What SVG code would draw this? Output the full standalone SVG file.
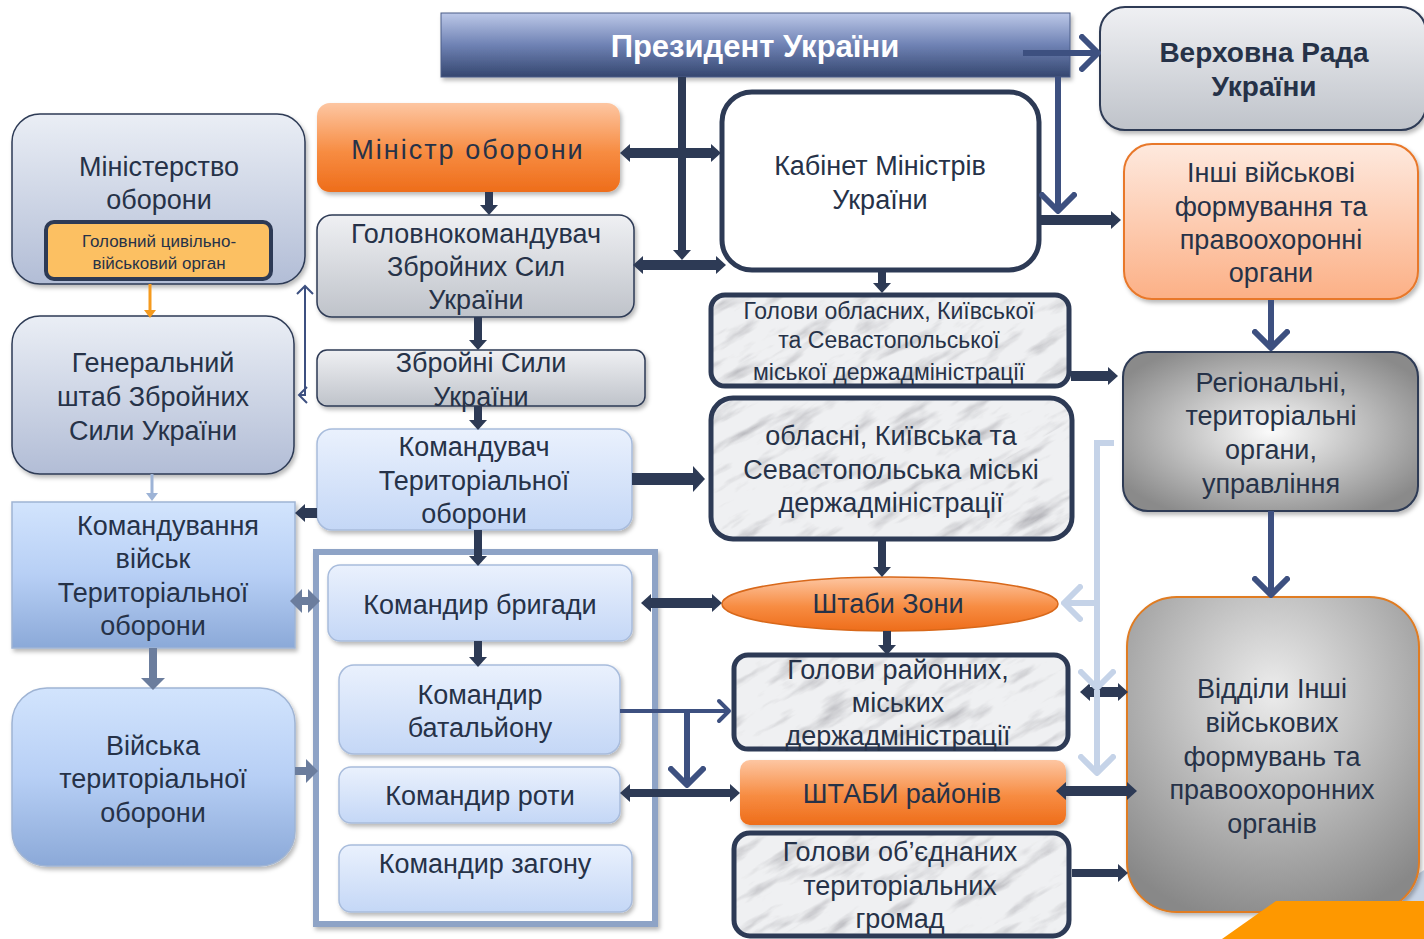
<svg xmlns="http://www.w3.org/2000/svg" width="1424" height="939" viewBox="0 0 1424 939">
<defs>
<style>
text{font-family:"Liberation Sans Narrow","Arial Narrow","Liberation Sans",Arial,sans-serif;fill:#263248;text-anchor:middle;font-size:27px}
.b{font-weight:bold}
.w{fill:#ffffff}
.s23{font-size:23px}
.s17{font-size:17px}
.dk{fill:none;stroke:#2d3a55;stroke-width:10}
.dk8{fill:none;stroke:#2d3a55;stroke-width:8}
.bl{fill:none;stroke:#3d5080;stroke-width:6}
.lb{fill:none;stroke:#c5d3e8;stroke-width:6}
.gb{fill:none;stroke:#6b7d9d;stroke-width:8}
.navy{stroke:#2d3a55;stroke-width:1.5}
.marbleS{fill:none;stroke:#2d3a55;stroke-width:5}
.mfill{fill:url(#marbleP)}
</style>
<linearGradient id="gPres" x1="0" y1="0" x2="0" y2="1"><stop offset="0" stop-color="#bcc8e8"/><stop offset="0.5" stop-color="#6f82b4"/><stop offset="1" stop-color="#34466f"/></linearGradient>
<linearGradient id="gOr" x1="0" y1="0" x2="0" y2="1"><stop offset="0" stop-color="#fdc6a2"/><stop offset="0.55" stop-color="#f78c42"/><stop offset="1" stop-color="#ee6d1a"/></linearGradient>
<linearGradient id="gGray" x1="0" y1="0" x2="0" y2="1"><stop offset="0" stop-color="#eff0f3"/><stop offset="1" stop-color="#bfc3ca"/></linearGradient>
<linearGradient id="gMin" x1="0" y1="0" x2="0" y2="1"><stop offset="0" stop-color="#eaeef5"/><stop offset="1" stop-color="#b2bdd6"/></linearGradient>
<linearGradient id="gLb" x1="0" y1="0" x2="0" y2="1"><stop offset="0" stop-color="#eaf1fd"/><stop offset="1" stop-color="#c4d7f6"/></linearGradient>
<linearGradient id="gBlue" x1="0" y1="0" x2="0" y2="1"><stop offset="0" stop-color="#d2e4fd"/><stop offset="0.5" stop-color="#b7cff5"/><stop offset="1" stop-color="#8ba9d8"/></linearGradient>
<linearGradient id="gPeach" x1="0" y1="0" x2="0" y2="1"><stop offset="0" stop-color="#fee9de"/><stop offset="1" stop-color="#fcb086"/></linearGradient>
<radialGradient id="gRad" cx="0.5" cy="0.5" r="0.6"><stop offset="0" stop-color="#fbfbfb"/><stop offset="1" stop-color="#8a8a8a"/></radialGradient>
<radialGradient id="gRad2" cx="0.5" cy="0.3" r="0.75"><stop offset="0" stop-color="#ececec"/><stop offset="1" stop-color="#888888"/></radialGradient>
<filter id="sh" x="-10%" y="-10%" width="125%" height="130%"><feDropShadow dx="2" dy="3" stdDeviation="2" flood-color="#000" flood-opacity="0.28"/></filter>
<filter id="marble" x="0" y="0" width="100%" height="100%">
<feTurbulence type="fractalNoise" baseFrequency="0.018 0.07" numOctaves="4" seed="11" result="n"/>
<feColorMatrix in="n" type="matrix" values="0 0 0 0 0.45  0 0 0 0 0.45  0 0 0 0 0.48  2.4 0 0 0 -1.25" result="t"/>
<feComposite in="t" in2="SourceGraphic" operator="in" result="tc"/>
<feMerge><feMergeNode in="SourceGraphic"/><feMergeNode in="tc"/></feMerge>
</filter>
<pattern id="marbleP" patternUnits="userSpaceOnUse" x="0" y="0" width="900" height="900" patternTransform="rotate(-30)">
<rect width="900" height="900" fill="#eff0f2" filter="url(#marble)"/>
</pattern>
<marker id="hd" viewBox="0 0 10 18" refX="0" refY="9" markerWidth="10" markerHeight="18" markerUnits="userSpaceOnUse" orient="auto-start-reverse"><path d="M0,0 L10,9 L0,18 z" fill="#2d3a55"/></marker>
<marker id="hdL" viewBox="0 0 12 26" refX="0" refY="13" markerWidth="12" markerHeight="26" markerUnits="userSpaceOnUse" orient="auto-start-reverse"><path d="M0,0 L12,13 L0,26 z" fill="#2d3a55"/></marker>
<marker id="hg" viewBox="0 0 12 24" refX="0" refY="12" markerWidth="12" markerHeight="24" markerUnits="userSpaceOnUse" orient="auto-start-reverse"><path d="M0,0 L12,12 L0,24 z" fill="#6b7d9d"/></marker>
<marker id="ho" viewBox="0 0 8 12" refX="0" refY="6" markerWidth="8" markerHeight="12" markerUnits="userSpaceOnUse" orient="auto"><path d="M0,0 L8,6 L0,12 z" fill="#f59a1e"/></marker>
<marker id="hlt" viewBox="0 0 8 12" refX="0" refY="6" markerWidth="8" markerHeight="12" markerUnits="userSpaceOnUse" orient="auto"><path d="M0,0 L8,6 L0,12 z" fill="#9db3d6"/></marker>
<marker id="cv" viewBox="0 0 22 38" refX="19" refY="19" markerWidth="22" markerHeight="38" markerUnits="userSpaceOnUse" orient="auto-start-reverse"><path d="M3,3 L19,19 L3,35" fill="none" stroke="#3d5080" stroke-width="6" stroke-linecap="round" stroke-linejoin="round"/></marker>
<marker id="cvS" viewBox="0 0 16 26" refX="13" refY="13" markerWidth="16" markerHeight="26" markerUnits="userSpaceOnUse" orient="auto-start-reverse"><path d="M3,3 L13,13 L3,23" fill="none" stroke="#3d5080" stroke-width="4" stroke-linecap="round" stroke-linejoin="round"/></marker>
<marker id="cvT" viewBox="0 0 12 20" refX="10" refY="10" markerWidth="12" markerHeight="20" markerUnits="userSpaceOnUse" orient="auto-start-reverse"><path d="M2,2 L10,10 L2,18" fill="none" stroke="#3d5080" stroke-width="2"/></marker>
<marker id="cvL" viewBox="0 0 22 38" refX="19" refY="19" markerWidth="22" markerHeight="38" markerUnits="userSpaceOnUse" orient="auto-start-reverse"><path d="M3,3 L19,19 L3,35" fill="none" stroke="#c5d3e8" stroke-width="6" stroke-linecap="round" stroke-linejoin="round"/></marker>
</defs>
<rect width="1424" height="939" fill="#ffffff"/>

<polygon id="decor-blue" points="1377,901 1424,870 1424,901" fill="#c8d4e6"/>

<g id="container">
<rect x="316" y="552" width="339" height="372" fill="#ffffff" stroke="#8ea3c6" stroke-width="6" filter="url(#sh)"/>
</g>

<g id="president">
<rect x="441" y="13" width="629" height="64" fill="url(#gPres)" stroke="#4a5c88" stroke-width="1" filter="url(#sh)"/>
<text x="755" y="57" class="b w" style="font-size:31px">Президент України</text>
</g>

<g id="verkhovna">
<rect x="1100" y="7" width="326" height="123" rx="25" fill="url(#gGray)" stroke="#2d3a55" stroke-width="2" filter="url(#sh)"/>
<text x="1264" y="62" class="b" style="font-size:28px">Верховна Рада</text>
<text x="1264" y="96" class="b" style="font-size:28px">України</text>
</g>

<g id="minister">
<rect x="317" y="103" width="303" height="89" rx="13" fill="url(#gOr)" filter="url(#sh)"/>
<text x="468" y="159" style="letter-spacing:2px">Міністр  оборони</text>
</g>

<g id="cabinet">
<rect x="722" y="92" width="317" height="178" rx="30" fill="#ffffff" stroke="#2d3a55" stroke-width="5"/>
<text x="880" y="175">Кабінет Міністрів</text>
<text x="880" y="209">України</text>
</g>

<g id="ministry">
<rect x="12" y="114" width="293" height="170" rx="28" fill="url(#gMin)" class="navy" filter="url(#sh)"/>
<text x="159" y="176">Міністерство</text>
<text x="159" y="209">оборони</text>
</g>

<g id="civmil">
<rect x="46" y="222" width="225" height="57" rx="8" fill="#fcc062" stroke="#2d3a55" stroke-width="4"/>
<text x="159" y="247" class="s17">Головний цивільно-</text>
<text x="159" y="269" class="s17">військовий орган</text>
</g>

<g id="commander">
<rect x="317" y="215" width="317" height="102" rx="15" fill="url(#gGray)" class="navy" filter="url(#sh)"/>
<text x="476" y="243">Головнокомандувач</text>
<text x="476" y="276">Збройних Сил</text>
<text x="476" y="309">України</text>
</g>

<g id="armed">
<rect x="317" y="350" width="328" height="56" rx="10" fill="url(#gGray)" class="navy" filter="url(#sh)"/>
<text x="481" y="372">Збройні Сили</text>
<text x="481" y="406">України</text>
</g>

<g id="genstaff">
<rect x="12" y="316" width="282" height="158" rx="28" fill="url(#gMin)" class="navy" filter="url(#sh)"/>
<text x="153" y="372">Генеральний</text>
<text x="153" y="406">штаб Збройних</text>
<text x="153" y="440">Сили України</text>
</g>

<g id="tdcommander">
<rect x="317" y="429" width="315" height="101" rx="15" fill="url(#gLb)" stroke="#a8bcdc" stroke-width="1.5" filter="url(#sh)"/>
<text x="474" y="456">Командувач</text>
<text x="474" y="490">Територіальної</text>
<text x="474" y="523">оборони</text>
</g>

<g id="tdcommand">
<rect x="12" y="502" width="283" height="146" fill="url(#gBlue)" stroke="#9fb4d4" stroke-width="1.5" filter="url(#sh)"/>
<text x="168" y="535">Командування</text>
<text x="153" y="568">військ</text>
<text x="153" y="602">Територіальної</text>
<text x="153" y="635">оборони</text>
</g>

<g id="tdtroops">
<rect x="12" y="688" width="283" height="178" rx="35" fill="url(#gBlue)" stroke="#9fb4d4" stroke-width="1.5" filter="url(#sh)"/>
<text x="153" y="755">Війська</text>
<text x="153" y="788">територіальної</text>
<text x="153" y="822">оборони</text>
</g>

<g id="brigade">
<rect x="328" y="565" width="304" height="76" rx="12" fill="url(#gLb)" stroke="#a8bcdc" stroke-width="1.5" filter="url(#sh)"/>
<text x="480" y="614">Командир бригади</text>
</g>

<g id="battalion">
<rect x="339" y="665" width="281" height="89" rx="15" fill="url(#gLb)" stroke="#a8bcdc" stroke-width="1.5" filter="url(#sh)"/>
<text x="480" y="704">Командир</text>
<text x="480" y="737">батальйону</text>
</g>

<g id="company">
<rect x="339" y="767" width="281" height="56" rx="12" fill="url(#gLb)" stroke="#a8bcdc" stroke-width="1.5" filter="url(#sh)"/>
<text x="480" y="805">Командир роти</text>
</g>

<g id="detachment">
<rect x="339" y="845" width="293" height="67" rx="12" fill="url(#gLb)" stroke="#a8bcdc" stroke-width="1.5" filter="url(#sh)"/>
<text x="485" y="873">Командир загону</text>
</g>

<g id="oblheads">
<rect x="711" y="295" width="358" height="91" rx="14" class="mfill marbleS" style="fill:url(#marbleP)"/>
<text x="889" y="319" class="s23">Голови обласних, Київської</text>
<text x="889" y="348" class="s23">та Севастопольської</text>
<text x="889" y="380" class="s23">міської держадміністрації</text>
</g>

<g id="oblstates">
<rect x="711" y="398" width="361" height="141" rx="22" class="marbleS" style="fill:url(#marbleP)"/>
<text x="891" y="445">обласні, Київська та</text>
<text x="891" y="479">Севастопольська міські</text>
<text x="891" y="512">держадміністрації</text>
</g>

<g id="other">
<rect x="1124" y="144" width="294" height="155" rx="28" fill="url(#gPeach)" stroke="#e8782a" stroke-width="2" filter="url(#sh)"/>
<text x="1271" y="182">Інші військові</text>
<text x="1271" y="216">формування та</text>
<text x="1271" y="249">правоохоронні</text>
<text x="1271" y="282">органи</text>
</g>

<g id="regional">
<rect x="1123" y="352" width="295" height="159" rx="25" fill="url(#gRad)" stroke="#2d3a55" stroke-width="2" filter="url(#sh)"/>
<text x="1271" y="392">Регіональні,</text>
<text x="1271" y="425">територіальні</text>
<text x="1271" y="459">органи,</text>
<text x="1271" y="493">управління</text>
</g>

<g id="zone">
<ellipse cx="890" cy="604" rx="168" ry="27" fill="url(#gOr)" stroke="#d8681a" stroke-width="1.5"/>
<text x="888" y="613">Штаби Зони</text>
</g>

<g id="raionheads">
<rect x="734" y="655" width="334" height="94" rx="14" class="marbleS" style="fill:url(#marbleP)"/>
<text x="898" y="679">Голови районних,</text>
<text x="898" y="712">міських</text>
<text x="898" y="745">держадміністрації</text>
</g>

<g id="raionhq">
<rect x="740" y="760" width="326" height="65" rx="10" fill="url(#gOr)" filter="url(#sh)"/>
<text x="902" y="803">ШТАБИ районів</text>
</g>

<g id="hromady">
<rect x="734" y="833" width="335" height="103" rx="16" class="marbleS" style="fill:url(#marbleP)"/>
<text x="900" y="861">Голови об’єднаних</text>
<text x="900" y="895">територіальних</text>
<text x="900" y="928">громад</text>
</g>

<g id="departments">
<rect x="1127" y="597" width="292" height="315" rx="50" fill="url(#gRad2)" stroke="#e07b20" stroke-width="2" filter="url(#sh)"/>
<text x="1272" y="698">Відділи Інші</text>
<text x="1272" y="732">військових</text>
<text x="1272" y="766">формувань та</text>
<text x="1272" y="799">правоохоронних</text>
<text x="1272" y="833">органів</text>
</g>

<polygon id="decor-orange" points="1222,939 1276,901 1424,901 1424,939" fill="#fe9800"/>

<g id="connectors">
<path class="dk8" d="M682,77 V250" marker-end="url(#hd)"/>
<path class="dk" d="M630,153 H711" marker-start="url(#hd)" marker-end="url(#hd)"/>
<path class="dk" d="M643,265 H716" marker-start="url(#hd)" marker-end="url(#hd)"/>
<path class="dk8" d="M489,192 V205" marker-end="url(#hd)"/>
<path class="dk8" d="M478,317 V340" marker-end="url(#hd)"/>
<path class="dk8" d="M478,406 V420" marker-end="url(#hd)"/>
<path class="dk8" d="M882,271 V283" marker-end="url(#hd)"/>
<path class="dk" d="M1040,220 H1111" marker-end="url(#hd)"/>
<path class="dk" d="M1071,376 H1108" marker-end="url(#hd)"/>
<path class="dk" style="stroke-width:12" d="M632,479 H693" marker-end="url(#hdL)"/>
<path class="dk" d="M317,513 H305" marker-end="url(#hd)"/>
<path class="dk8" d="M882,541 V567" marker-end="url(#hd)"/>
<path class="dk8" d="M887,631 V645" marker-end="url(#hd)"/>
<path class="dk" d="M651,603 H712" marker-start="url(#hd)" marker-end="url(#hd)"/>
<path class="dk8" d="M478,530 V556" marker-end="url(#hd)"/>
<path class="dk8" d="M478,641 V657" marker-end="url(#hd)"/>
<path class="dk8" d="M630,793 H730" marker-start="url(#hd)" marker-end="url(#hd)"/>
<path class="dk" d="M1090,692 H1118" marker-start="url(#hd)" marker-end="url(#hd)"/>
<path class="dk" d="M1066,791 H1127" marker-start="url(#hd)" marker-end="url(#hd)"/>
<path class="dk8" d="M1072,873 H1118" marker-end="url(#hd)"/>
<path class="bl" d="M1023,53 H1098" marker-end="url(#cv)"/>
<path class="bl" d="M1058,77 V211" marker-end="url(#cv)"/>
<path class="bl" d="M1271,300 V348" marker-end="url(#cv)"/>
<path class="bl" d="M1271,511 V595" marker-end="url(#cv)"/>
<path class="bl" style="stroke-width:4" d="M620,711 H729" marker-end="url(#cvS)"/>
<path class="bl" d="M687,711 V785" marker-end="url(#cv)"/>
<path fill="none" stroke="#3d5080" stroke-width="2" d="M305,286 V395 H299" marker-start="url(#cvT)" marker-end="url(#cvT)"/>
<path class="lb" d="M1114,443 H1097 V688" marker-end="url(#cvL)"/>
<path class="lb" d="M1097,690 V773" marker-end="url(#cvL)"/>
<path class="lb" d="M1097,603 H1064" marker-end="url(#cvL)"/>
<path fill="none" stroke="#9db3d6" stroke-width="3" d="M152,474 V493" marker-end="url(#hlt)"/>
<path fill="none" stroke="#f59a1e" stroke-width="3" d="M150,284 V310" marker-end="url(#ho)"/>
<path class="gb" d="M153,648 V678" marker-end="url(#hg)"/>
<path class="gb" d="M302,601 H308" marker-start="url(#hg)" marker-end="url(#hg)"/>
<path class="gb" d="M295,771 H306" marker-end="url(#hg)"/>
</g>
</svg>
